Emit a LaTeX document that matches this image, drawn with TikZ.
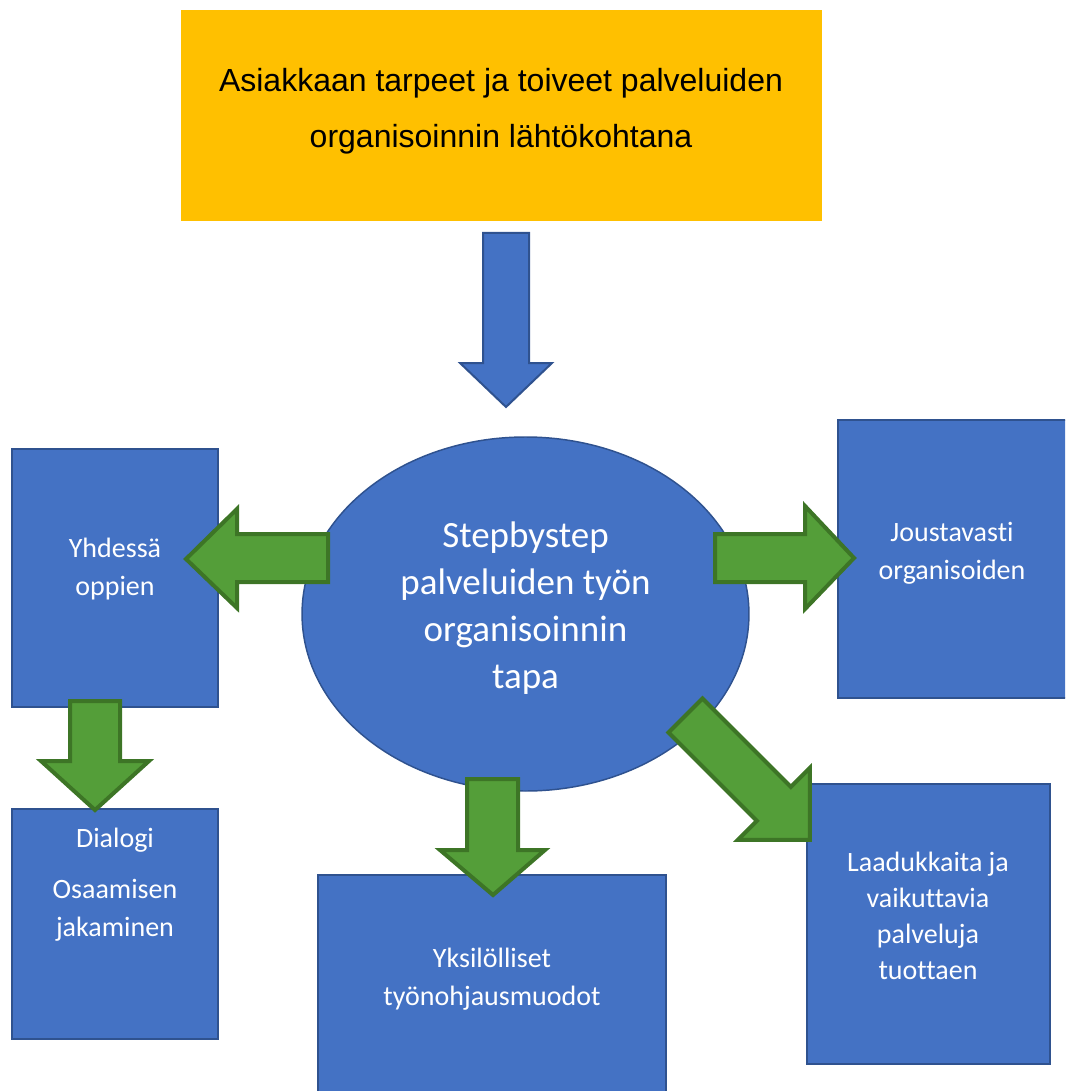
\documentclass[tikz,border=0pt]{standalone}
\usepackage{fontspec}
\setmainfont{Carlito}[Ligatures=NoCommon]
\newfontfamily\arialf{Liberation Sans}
\definecolor{ofblue}{HTML}{4472C4}
\definecolor{ofblueb}{HTML}{2F528F}
\definecolor{ofgreen}{HTML}{549E39}
\definecolor{ofgreenb}{HTML}{3D7526}
\definecolor{ofyellow}{HTML}{FFC000}
\begin{document}
\begin{tikzpicture}[x=0.75pt,y=-0.75pt,
  bbox/.style={draw=ofblueb, fill=ofblue, line width=1.1pt},
  barrow/.style={draw=ofblueb, fill=ofblue, line width=1.5pt},
  garrow/.style={draw=ofgreenb, fill=ofgreen, line width=3pt, line join=miter},
  wtext/.style={text=white, align=center, inner sep=0pt, font=\fontsize{21}{28.5}\selectfont}]
\useasboundingbox (0,0) rectangle (1065,1091);
\clip (0,0) rectangle (1065,1091);

% top yellow box
\fill[ofyellow] (181,10) rectangle (822,221);
\node[align=center, inner sep=0pt, font=\arialf\fontsize{24}{42}\selectfont] (top) at (501,111)
  {Asiakkaan tarpeet ja toiveet palveluiden\\organisoinnin lähtökohtana};

% blue arrow
\draw[barrow] (483,233) -- (529,233) -- (529,363) -- (552,363) -- (506,407) -- (460,363) -- (483,363) -- cycle;

% boxes
\draw[bbox] (12,449) rectangle (218,707);
\node[wtext] (yhd) at (115,569) {Yhdessä\\oppien};

\draw[bbox] (838,420) rectangle (1070,698);
\node[wtext] (jou) at (952,553) {Joustavasti\\organisoiden};

\draw[bbox] (12,809) rectangle (218,1039);
\node[wtext] (dia) at (115,885) {Dialogi\\[9.75pt]Osaamisen\\jakaminen};

\draw[bbox] (318,875) rectangle (666,1100);
\node[wtext] (yks) at (492,979) {Yksilölliset\\työnohjausmuodot};

\draw[bbox] (807,784) rectangle (1050,1064);
\node[wtext, font=\fontsize{21}{27}\selectfont] (laa) at (928,916) {Laadukkaita ja\\vaikuttavia\\palveluja\\tuottaen};

% ellipse
\draw[bbox] (525.5,614) ellipse [x radius=167.6pt, y radius=132.75pt];
\node[text=white, align=center, inner sep=0pt, font=\fontsize{27.75}{35.25}\selectfont] (mid) at (525.5,608)
  {Stepbystep\\palveluiden työn\\organisoinnin\\tapa};

% green arrows
\draw[garrow] (328,534) -- (237,534) -- (237,509) -- (186,559) -- (237,608) -- (237,582) -- (328,582) -- cycle;
\draw[garrow] (715,534) -- (805,534) -- (805,506) -- (854,558) -- (805,609) -- (805,582) -- (715,582) -- cycle;
\draw[garrow] (70,701) -- (120,701) -- (120,761) -- (149,761) -- (95,810) -- (41,761) -- (70,761) -- cycle;
\draw[garrow] (467,779) -- (518,779) -- (518,850) -- (545,850) -- (493,895) -- (440,850) -- (467,850) -- cycle;
\begin{scope}[shift={(685.5,715.5)}, rotate=-45]
\draw[garrow] (0,-24) -- (125,-24) -- (125,-51) -- (176,0) -- (125,51) -- (125,24) -- (0,24) -- cycle;
\end{scope}
\end{tikzpicture}
\end{document}
